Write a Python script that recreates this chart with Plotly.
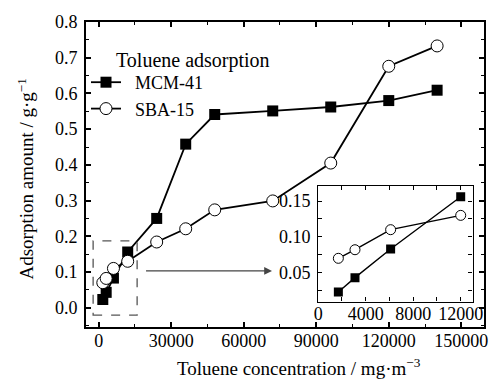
import plotly.graph_objects as go

# Data
conc = [1700, 3100, 6100, 12000, 24000, 36000, 48000, 72000, 96000, 120000, 140000]
mcm41 = [0.023, 0.043, 0.083, 0.156, 0.250, 0.458, 0.541, 0.551, 0.562, 0.580, 0.609]
sba15 = [0.070, 0.082, 0.110, 0.130, 0.184, 0.221, 0.274, 0.299, 0.405, 0.676, 0.733]
inset_n = 4  # first four points are shown in the inset

main_xticks = [0, 30000, 60000, 90000, 120000, 150000]
main_yticks = [0.0, 0.1, 0.2, 0.3, 0.4, 0.5, 0.6, 0.7, 0.8]
inset_xticks = [0, 4000, 8000, 12000]
inset_yticks = [0.05, 0.10, 0.15]

FONT = "Liberation Serif, Times New Roman, DejaVu Serif, serif"
W, H = 500, 379
ML, MR, MT, MB = 86, 6, 22, 52
PW, PH = W - ML - MR, H - MT - MB


def px_x(p):
    return (p - ML) / PW


def px_y(p):
    return (H - MB - p) / PH


fig = go.Figure()

fig.add_trace(go.Scatter(
    x=conc, y=mcm41, mode="lines+markers", name="\u00a0\u00a0MCM-41",
    line=dict(color="black", width=1.8),
    marker=dict(symbol="square", size=11, color="black", line=dict(color="black", width=0)),
))
fig.add_trace(go.Scatter(
    x=conc, y=sba15, mode="lines+markers", name="\u00a0\u00a0SBA-15",
    line=dict(color="black", width=1.8),
    marker=dict(symbol="circle", size=12, color="white", line=dict(color="black", width=1)),
))

# inset traces
fig.add_trace(go.Scatter(
    x=conc[:inset_n], y=mcm41[:inset_n], mode="lines+markers", showlegend=False,
    xaxis="x2", yaxis="y2",
    line=dict(color="black", width=1.4),
    marker=dict(symbol="square", size=9, color="black"),
))
fig.add_trace(go.Scatter(
    x=conc[:inset_n], y=sba15[:inset_n], mode="lines+markers", showlegend=False,
    xaxis="x2", yaxis="y2",
    line=dict(color="black", width=1.4),
    marker=dict(symbol="circle", size=10, color="white", line=dict(color="black", width=1)),
))

tickfont = dict(family=FONT, size=18, color="black")

fig.update_layout(
    width=W, height=H,
    margin=dict(l=ML, r=MR, t=MT, b=MB, pad=0),
    paper_bgcolor="white", plot_bgcolor="white",
    font=dict(family=FONT, color="black"),
    showlegend=True,
    legend=dict(
        x=px_x(86), y=px_y(64), xanchor="left", yanchor="top",
        font=dict(family=FONT, size=18, color="black"),
        bgcolor="rgba(0,0,0,0)", borderwidth=0, tracegroupgap=0,
    ),
    xaxis=dict(
        range=[-5250, 159400], tickvals=main_xticks, ticktext=[str(v) for v in main_xticks],
        ticks="inside", ticklen=5, tickwidth=1.5, tickcolor="black",
        minor=dict(dtick=15000, tick0=0, ticks="inside", ticklen=3, tickwidth=1.2, tickcolor="black", showgrid=False),
        showline=True, linewidth=2, linecolor="black", mirror="allticks",
        showgrid=False, zeroline=False, tickfont=tickfont, ticklabelstandoff=-4,
    ),
    yaxis=dict(
        range=[-0.054, 0.8], tickvals=main_yticks, ticktext=[f"{v:.1f}" for v in main_yticks],
        ticks="inside", ticklen=5, tickwidth=1.5, tickcolor="black",
        minor=dict(dtick=0.05, tick0=0, ticks="inside", ticklen=3, tickwidth=1.2, tickcolor="black", showgrid=False),
        showline=True, linewidth=2, linecolor="black", mirror="allticks",
        showgrid=False, zeroline=False, tickfont=tickfont, ticklabelstandoff=3,
    ),
    xaxis2=dict(
        domain=[px_x(324), px_x(482.3)], anchor="y2",
        range=[0, 13000], tickvals=inset_xticks, ticktext=[str(v) for v in inset_xticks],
        ticks="inside", ticklen=4, tickwidth=1.2, tickcolor="black",
        minor=dict(dtick=2000, tick0=0, ticks="inside", ticklen=4, tickwidth=1.2, tickcolor="black", showgrid=False),
        showline=True, linewidth=1.3, linecolor="black", mirror="allticks",
        showgrid=False, zeroline=False, tickfont=tickfont, ticklabelstandoff=-4,
    ),
    yaxis2=dict(
        domain=[px_y(301.5), px_y(186)], anchor="x2",
        range=[0.0097, 0.171], tickvals=inset_yticks, ticktext=[f"{v:.2f}" for v in inset_yticks],
        ticks="inside", ticklen=4, tickwidth=1.2, tickcolor="black",
        minor=dict(dtick=0.025, tick0=0, ticks="inside", ticklen=4, tickwidth=1.2, tickcolor="black", showgrid=False),
        showline=True, linewidth=1.3, linecolor="black", mirror="allticks",
        showgrid=False, zeroline=False, tickfont=tickfont, ticklabelstandoff=3,
    ),
)

# dashed zoom box
fig.add_shape(type="rect", xref="x", yref="y", x0=-2300, x1=15900, y0=-0.021, y1=0.187,
              line=dict(color="#555555", width=1.3, dash="dash"))

# arrow
fig.add_annotation(xref="x", yref="y", axref="x", ayref="y",
                   x=71700, y=0.103, ax=18970, ay=0.103, text="",
                   showarrow=True, arrowhead=2, arrowsize=1.2, arrowwidth=1.3, arrowcolor="#444444")

# legend title
fig.add_annotation(xref="paper", yref="paper", x=px_x(115), y=px_y(60), xanchor="left", yanchor="middle",
                   text="Toluene adsorption", showarrow=False,
                   font=dict(family=FONT, size=20, color="black"))

# axis titles
fig.add_annotation(xref="paper", yref="paper", x=px_x(304), y=px_y(367), xanchor="center", yanchor="middle",
                   text="Toluene concentration / mg·m<sup>−3</sup>", showarrow=False,
                   font=dict(family=FONT, size=19, color="black"))
fig.add_annotation(xref="paper", yref="paper", x=px_x(24), y=px_y(179), xanchor="center", yanchor="middle",
                   text="Adsorption amount / g·g<sup>−1</sup>", showarrow=False, textangle=-90,
                   font=dict(family=FONT, size=19, color="black"))

fig.write_html("out.html")
